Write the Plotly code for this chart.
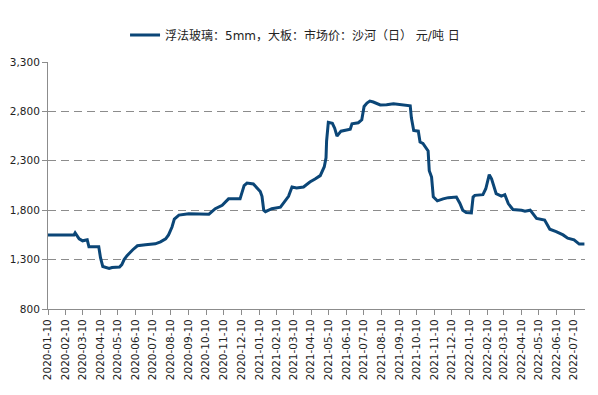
import plotly.graph_objects as go
import pandas as pd

series_name = "浮法玻璃：5mm，大板：市场价：沙河（日） 元/吨 日"

dates = [
    "2020-01-10", "2020-02-24", "2020-02-26", "2020-03-04", "2020-03-10", "2020-03-18",
    "2020-03-21", "2020-04-07", "2020-04-10", "2020-04-14", "2020-04-25", "2020-04-30",
    "2020-05-13", "2020-05-17", "2020-05-21", "2020-05-26", "2020-06-05", "2020-06-13",
    "2020-06-27", "2020-07-14", "2020-07-23", "2020-08-01", "2020-08-06", "2020-08-12",
    "2020-08-16", "2020-08-24", "2020-09-10", "2020-10-15", "2020-10-26", "2020-11-07",
    "2020-11-18", "2020-12-08", "2020-12-15", "2020-12-20", "2020-12-31", "2021-01-07",
    "2021-01-12", "2021-01-15", "2021-01-18", "2021-01-21", "2021-02-01", "2021-02-16",
    "2021-02-24", "2021-03-02", "2021-03-08", "2021-03-16", "2021-03-28", "2021-04-08",
    "2021-04-17", "2021-04-26", "2021-05-03", "2021-05-06", "2021-05-07", "2021-05-10",
    "2021-05-17", "2021-05-21", "2021-05-25", "2021-06-01", "2021-06-17", "2021-06-20",
    "2021-07-01", "2021-07-07", "2021-07-11", "2021-07-16", "2021-07-21", "2021-07-27",
    "2021-08-08", "2021-08-19", "2021-08-31", "2021-09-17", "2021-09-29", "2021-10-01",
    "2021-10-05", "2021-10-13", "2021-10-16", "2021-10-21", "2021-10-30", "2021-11-01",
    "2021-11-05", "2021-11-08", "2021-11-15", "2021-11-25", "2021-12-04", "2021-12-18",
    "2021-12-24", "2021-12-29", "2022-01-04", "2022-01-13", "2022-01-16", "2022-01-19",
    "2022-02-02", "2022-02-07", "2022-02-13", "2022-02-17", "2022-02-25", "2022-03-06",
    "2022-03-12", "2022-03-18", "2022-03-26", "2022-04-10", "2022-04-16", "2022-04-25",
    "2022-05-06", "2022-05-20", "2022-05-29", "2022-06-09", "2022-06-21", "2022-06-29",
    "2022-07-10", "2022-07-19", "2022-07-28",
]

prices = [
    1550, 1550, 1570, 1510, 1490, 1500,
    1430, 1430, 1320, 1230, 1210, 1220,
    1225, 1250, 1300, 1340, 1400, 1440,
    1450, 1460, 1480, 1510, 1550, 1630,
    1710, 1750, 1765, 1760, 1815, 1850,
    1915, 1915, 2050, 2075, 2065, 2020,
    1990, 1940, 1800, 1785, 1815, 1830,
    1900, 1940, 2035, 2025, 2035, 2085,
    2115, 2150, 2240, 2330, 2500, 2690,
    2680, 2630, 2550, 2600, 2620, 2675,
    2685, 2715, 2850, 2885, 2905, 2895,
    2865, 2867, 2877, 2867, 2857, 2735,
    2607, 2600, 2490, 2475, 2400, 2200,
    2135, 1935, 1895, 1915, 1927, 1933,
    1870, 1800, 1777, 1773, 1933, 1950,
    1957, 2017, 2160, 2117, 1967, 1943,
    1957, 1867, 1807, 1800, 1790, 1800,
    1717, 1700, 1607, 1583, 1550, 1517,
    1500, 1457, 1457,
]

tick_dates = pd.date_range("2020-01-01", "2022-07-01", freq="MS") + pd.Timedelta(days=9)
tick_vals = [d.strftime("%Y-%m-%d") for d in tick_dates]
tick_text = tick_vals

y_ticks = [800, 1300, 1800, 2300, 2800, 3300]

fig = go.Figure()
fig.add_trace(go.Scatter(
    x=dates, y=prices, mode="lines", name=series_name,
    line=dict(color="#0b4677", width=3),
))

axis_color = "#8c8c8c"
fig.update_layout(
    width=598, height=395,
    margin=dict(l=40, r=21, t=54, b=94, autoexpand=False),
    paper_bgcolor="white", plot_bgcolor="white",
    font=dict(family="DejaVu Sans, Noto Sans CJK SC", size=10, color="#222222"),
    showlegend=True,
    legend=dict(
        orientation="h", xref="container", yref="container",
        x=0.48, xanchor="center", y=1 - 27 / 395, yanchor="middle",
        font=dict(family="DejaVu Sans, Noto Sans CJK SC", size=12, color="#222222"),
        bgcolor="rgba(0,0,0,0)",
    ),
    xaxis=dict(
        type="date", range=["2020-01-10", "2022-07-29"],
        tickmode="array", tickvals=tick_vals, ticktext=tick_text,
        tickangle=-90, showgrid=False, showline=True, linecolor=axis_color,
        linewidth=1, ticks="outside", ticklen=5, tickcolor=axis_color,
        tickfont=dict(size=10.5), zeroline=False, automargin=False,
    ),
    yaxis=dict(
        range=[800, 3300], tickmode="array", tickvals=y_ticks,
        tickformat=",d", showgrid=True, gridcolor="#8c8c8c", gridwidth=1.2,
        griddash="8px,5px", showline=True, linecolor=axis_color, linewidth=1,
        ticks="outside", ticklen=5, tickcolor=axis_color, zeroline=False,
        tickfont=dict(size=10.5), automargin=False,
    ),
)

fig.write_html("out.html")
